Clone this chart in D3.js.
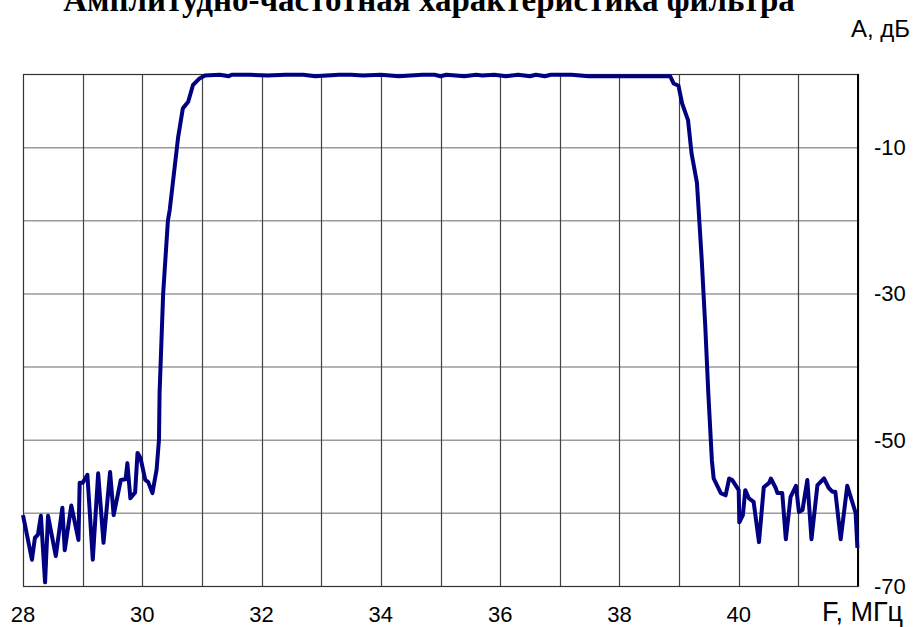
<!DOCTYPE html>
<html>
<head>
<meta charset="utf-8">
<script src="https://cdn.jsdelivr.net/npm/d3@7"></script>
<style>
  body { margin: 0; background: #fff; }
  svg { display: block; }
</style>
</head>
<body>
<script>
'use strict';

var width  = 913;
var height = 627;

// частота, МГц
var freq = [
  28.00, 28.15, 28.20, 28.25, 28.30, 28.37, 28.42, 28.55, 28.66, 28.70,
  28.81, 28.93, 28.95, 29.00, 29.08, 29.17, 29.26, 29.35, 29.46, 29.52,
  29.64, 29.72, 29.75, 29.80, 29.88, 29.92, 29.97, 30.05, 30.10, 30.17,
  30.24, 30.28, 30.29, 30.35, 30.43, 30.46, 30.60, 30.68, 30.77, 30.85,
  30.96, 31.05, 31.30, 31.45, 31.50, 31.80, 32.10, 32.40, 32.70, 32.90,
  33.30, 33.50, 33.70, 34.00, 34.30, 34.70, 34.90, 35.00, 35.10, 35.40,
  35.60, 35.70, 35.90, 36.10, 36.30, 36.50, 36.60, 36.75, 36.85, 37.00,
  37.20, 37.48, 38.00, 38.50, 38.85, 38.91, 38.99, 39.05, 39.15, 39.21,
  39.30, 39.38, 39.44, 39.49, 39.55, 39.58, 39.70, 39.78, 39.84, 39.89,
  40.00, 40.01, 40.07, 40.11, 40.17, 40.25, 40.34, 40.42, 40.51, 40.54,
  40.62, 40.65, 40.73, 40.79, 40.87, 40.96, 41.01, 41.07, 41.15, 41.22,
  41.32, 41.43, 41.51, 41.57, 41.62, 41.71, 41.82, 41.96, 41.99
];

// затухание, дБ
var level = [
  -60.3, -66.4, -63.4, -63.0, -60.4, -69.5, -60.4, -65.9, -59.3, -65.1,
  -59.0, -63.7, -55.9, -55.9, -54.8, -66.4, -54.6, -64.1, -54.4, -60.3,
  -55.5, -55.4, -53.2, -58.0, -57.2, -51.8, -52.5, -55.5, -55.8, -57.3,
  -54.1, -50.0, -43.6, -30.0, -20.0, -18.6,  -8.7,  -4.7,  -3.8,  -1.5,
   -0.6,  -0.2,  -0.1,  -0.3,  -0.1,  -0.1,  -0.2,  -0.1,  -0.1,  -0.3,
   -0.1,  -0.1,  -0.2,  -0.1,  -0.3,  -0.1,  -0.1,  -0.3,  -0.1,  -0.3,
   -0.1,  -0.2,  -0.1,  -0.3,  -0.1,  -0.3,  -0.1,  -0.3,  -0.1,  -0.1,
   -0.1,  -0.3,  -0.3,  -0.3,  -0.3,  -1.3,  -1.6,  -4.0,  -6.3, -10.9,
  -14.9, -25.4, -34.6, -43.6, -52.8, -55.3, -57.3, -57.6, -55.3, -55.5,
  -56.9, -61.3, -60.3, -56.9, -58.0, -58.5, -64.0, -56.5, -55.9, -55.3,
  -56.6, -57.3, -57.3, -63.6, -57.8, -56.3, -59.9, -59.6, -55.5, -63.6,
  -56.2, -55.3, -56.6, -57.1, -57.1, -63.6, -56.3, -60.0, -64.8
];

var xTickLabels = [28, 30, 32, 34, 36, 38, 40];
var yTickLabels = [-10, -30, -50, -70];

var title  = 'Амплитудно-частотная характеристика фильтра';
var xTitle = 'F, МГц';
var yTitle = 'А, дБ';

var plotL = 23, plotR = 858, plotT = 74, plotB = 586;

var svg = d3.select('body').append('svg')
    .attr('width', width)
    .attr('height', height);

var x = d3.scaleLinear().domain([28, 42]).range([plotL, plotR]);
var y = d3.scaleLinear().domain([-70, 0]).range([plotB, plotT]);

// сетка
svg.append('g')
  .selectAll('line')
  .data(d3.range(-60, 0, 10))
  .enter().append('line')
    .attr('x1', plotL).attr('x2', plotR)
    .attr('y1', function(d) { return y(d) + 0.5; })
    .attr('y2', function(d) { return y(d) + 0.5; })
    .attr('stroke', '#9a9a9a')
    .attr('stroke-width', 1.5);

svg.append('g')
  .selectAll('line')
  .data(d3.range(29, 42, 1))
  .enter().append('line')
    .attr('x1', function(d) { return Math.round(x(d)) + 0.5; })
    .attr('x2', function(d) { return Math.round(x(d)) + 0.5; })
    .attr('y1', plotT).attr('y2', plotB)
    .attr('stroke', '#444')
    .attr('stroke-width', 1.2);

// рамка
svg.append('rect')
  .attr('x', plotL + 0.5).attr('y', plotT + 0.5)
  .attr('width', plotR - plotL).attr('height', plotB - plotT)
  .attr('fill', 'none')
  .attr('stroke', '#333')
  .attr('stroke-width', 1.2);

svg.append('line')
  .attr('x1', plotR).attr('x2', plotR)
  .attr('y1', plotT).attr('y2', plotB)
  .attr('stroke', '#000')
  .attr('stroke-width', 2);

// кривая
var line = d3.line()
  .x(function(d, i) { return x(freq[i]); })
  .y(function(d) { return y(d); });

svg.append('path')
  .datum(level)
  .attr('d', line)
  .attr('fill', 'none')
  .attr('stroke', '#000080')
  .attr('stroke-width', 4)
  .attr('stroke-linejoin', 'round');

// подписи
svg.append('g')
  .selectAll('text')
  .data(xTickLabels)
  .enter().append('text')
    .attr('x', function(d) { return x(d); })
    .attr('y', 622)
    .attr('text-anchor', 'middle')
    .attr('font-family', 'Liberation Sans, Arial, sans-serif')
    .attr('font-size', 22)
    .text(function(d) { return d; });

svg.append('g')
  .selectAll('text')
  .data(yTickLabels)
  .enter().append('text')
    .attr('x', 874)
    .attr('y', function(d) { return y(d) + 8; })
    .attr('font-family', 'Liberation Sans, Arial, sans-serif')
    .attr('font-size', 22)
    .text(function(d) { return d; });

svg.append('text')
  .attr('x', 903).attr('y', 621)
  .attr('text-anchor', 'end')
  .attr('font-family', 'Liberation Sans, Arial, sans-serif')
  .attr('font-size', 27)
  .text(xTitle);

svg.append('text')
  .attr('x', 910).attr('y', 37)
  .attr('text-anchor', 'end')
  .attr('font-family', 'Liberation Sans, Arial, sans-serif')
  .attr('font-size', 24)
  .text(yTitle);

svg.append('text')
  .attr('x', 429).attr('y', 11)
  .attr('text-anchor', 'middle')
  .attr('font-family', 'Liberation Serif, Times New Roman, serif')
  .attr('font-weight', 'bold')
  .attr('font-size', 33)
  .text(title);
</script>
</body>
</html>
